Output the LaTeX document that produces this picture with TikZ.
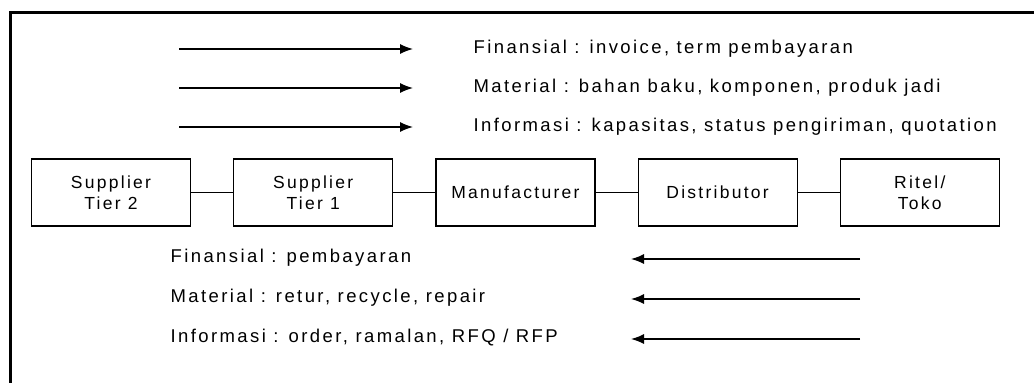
\documentclass[tikz,border=0pt]{standalone}
\usepackage{fontspec}
\newfontfamily\flowfont{Liberation Sans}[LetterSpace=13]
\usetikzlibrary{arrows.meta}
\usetikzlibrary{positioning}

\begin{document}
\begin{tikzpicture}[x=1pt,y=-1pt,node distance=42pt,line width=1.2pt,
  party/.style={draw,minimum width=159pt,minimum height=67pt,inner sep=0pt,
    align=center,font=\flowfont\fontsize{17.5}{21}\selectfont},
  flow/.style={-{Latex[length=13pt,width=10pt]},line width=1.4pt},
  flow label/.style={anchor=west,inner sep=0pt,font=\flowfont\fontsize{18.5}{20}\selectfont}]

  \useasboundingbox (0,0) rectangle (1034,383);
  \draw[line width=3pt] (10.5,383) -- (10.5,12) -- (1034,12);

  % chain of parties
  \node[party] (tier2) at (111,192.5) {Supplier\\Tier 2};
  \node[party] (tier1) [right=of tier2] {Supplier\\Tier 1};
  \node[party] (manuf) [right=of tier1] {Manufacturer};
  \node[party] (distr) [right=of manuf] {Distributor};
  \node[party] (ritel) [right=of distr] {Ritel/\\Toko};

  \draw (tier2) -- (tier1);
  \draw (tier1) -- (manuf);
  \draw (manuf) -- (distr);
  \draw (distr) -- (ritel);

  % upstream to downstream flows
  \coordinate (fin1a) at (179,49);  \coordinate (fin1b) at (413,49);
  \coordinate (mat1a) at (179,88);  \coordinate (mat1b) at (413,88);
  \coordinate (inf1a) at (179,127); \coordinate (inf1b) at (413,127);
  \node[flow label] (fin1) [right=60pt of fin1b] {Finansial : invoice, term pembayaran};
  \node[flow label] (mat1) [right=60pt of mat1b] {Material : bahan baku, komponen, produk jadi};
  \node[flow label] (inf1) [right=60pt of inf1b] {Informasi : kapasitas, status pengiriman, quotation};
  \draw[flow] (fin1a) -- (fin1b);
  \draw[flow] (mat1a) -- (mat1b);
  \draw[flow] (inf1a) -- (inf1b);

  % downstream to upstream flows
  \coordinate (fin2a) at (860,259); \coordinate (fin2b) at (631,259);
  \coordinate (mat2a) at (860,299); \coordinate (mat2b) at (631,299);
  \coordinate (inf2a) at (860,339); \coordinate (inf2b) at (631,339);
  \node[flow label] (fin2) at (170,258) {Finansial : pembayaran};
  \node[flow label] (mat2) at (170,298) {Material : retur, recycle, repair};
  \node[flow label] (inf2) at (170,338) {Informasi : order, ramalan, RFQ / RFP};
  \draw[flow] (fin2a) -- (fin2b);
  \draw[flow] (mat2a) -- (mat2b);
  \draw[flow] (inf2a) -- (inf2b);
\end{tikzpicture}
\end{document}
